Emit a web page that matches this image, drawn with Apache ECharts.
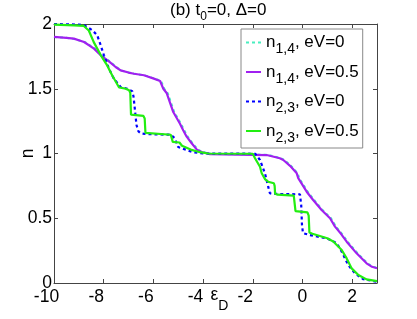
<!DOCTYPE html>
<html>
<head>
<meta charset="utf-8">
<script src="https://cdn.jsdelivr.net/npm/echarts@6/dist/echarts.min.js"></script>
<style>html,body{margin:0;padding:0;background:#fff}#c{width:417px;height:319px}</style>
</head>
<body>
<div id="c"></div>
<script>
// ---- data ----
var xTicks = [-10, -8, -6, -4, -2, 0, 2];
var yTicks = [0, 0.5, 1, 1.5, 2];
var seriesNames = ['n14_eV0', 'n14_eV05', 'n23_eV0', 'n23_eV05'];

var n14_eV0 = [[-10,1.9],[-9.5,1.893],[-9.2,1.885],[-8.75,1.86],[-8.35,1.81],[-8.08,1.758],[-7.75,1.71],[-7.48,1.666],[-7.28,1.64],[-6.96,1.624],[-6.74,1.615],[-6.34,1.603],[-5.94,1.577],[-5.69,1.56],[-5.56,1.5],[-5.42,1.465],[-5.16,1.32],[-4.89,1.23],[-4.76,1.18],[-4.62,1.13],[-4.42,1.079],[-4.21,1.03],[-4.02,1.012],[-3.68,0.997],[-2,0.992],[-1.4,0.99],[-0.87,0.963],[-0.73,0.95],[-0.46,0.905],[-0.19,0.847],[-0.13,0.81],[0.21,0.705],[0.47,0.641],[0.81,0.564],[1.15,0.5],[1.35,0.435],[1.59,0.38],[1.82,0.319],[2.22,0.229],[2.62,0.152],[2.84,0.125],[3,0.118]];

var n14_eV05 = [[-10,1.9],[-9.5,1.893],[-9.2,1.887],[-8.79,1.861],[-8.39,1.81],[-8.12,1.758],[-7.79,1.712],[-7.52,1.668],[-7.32,1.642],[-7,1.625],[-6.78,1.616],[-6.38,1.604],[-5.98,1.578],[-5.73,1.56],[-5.6,1.5],[-5.46,1.465],[-5.2,1.32],[-4.93,1.23],[-4.8,1.18],[-4.66,1.13],[-4.46,1.079],[-4.25,1.03],[-4.06,1.012],[-3.72,0.995],[-2,0.99],[-1.44,0.988],[-0.91,0.963],[-0.77,0.95],[-0.5,0.905],[-0.23,0.847],[-0.17,0.81],[0.17,0.705],[0.43,0.641],[0.77,0.564],[1.11,0.5],[1.31,0.435],[1.55,0.38],[1.78,0.319],[2.18,0.229],[2.58,0.152],[2.8,0.125],[3,0.114]];

var n23_eV0 = [[-10,2],[-9,1.995],[-8.8,1.99],[-8.66,1.977],[-8.45,1.95],[-8.26,1.913],[-8.12,1.835],[-7.99,1.758],[-7.79,1.655],[-7.59,1.578],[-7.32,1.514],[-7.05,1.5],[-6.85,1.48],[-6.8,1.44],[-6.75,1.35],[-6.68,1.22],[-6.6,1.17],[-6.5,1.155],[-6.3,1.15],[-5.3,1.145],[-5.15,1.12],[-5.0,1.05],[-4.7,1.03],[-4.4,1.01],[-4.0,1.0],[-1.9,0.998],[-1.84,0.988],[-1.71,0.95],[-1.51,0.847],[-1.38,0.744],[-1.31,0.693],[-1.2,0.688],[-0.1,0.685],[-0.05,0.6],[-0.02,0.45],[0.02,0.385],[0.3,0.37],[0.7,0.355],[0.97,0.345],[1.2,0.325],[1.38,0.307],[1.58,0.242],[1.84,0.139],[2.11,0.075],[2.45,0.029],[3,0.01]];

var n23_eV05 = [[-10,1.995],[-9.2,1.99],[-8.8,1.985],[-8.6,1.95],[-8.4,1.86],[-8.12,1.76],[-7.86,1.68],[-7.65,1.6],[-7.38,1.51],[-7.11,1.5],[-6.98,1.488],[-6.93,1.47],[-6.9,1.3],[-6.85,1.29],[-6.4,1.29],[-6.35,1.27],[-6.32,1.16],[-6.25,1.15],[-5.3,1.145],[-5.25,1.13],[-5.22,1.09],[-4.95,1.085],[-4.85,1.06],[-4.5,1.03],[-4.12,1.01],[-3.8,1.0],[-2.0,0.998],[-1.91,0.963],[-1.71,0.898],[-1.64,0.847],[-1.5,0.8],[-1.38,0.782],[-1.15,0.77],[-1.12,0.75],[-1.1,0.69],[-1.0,0.682],[-0.35,0.674],[-0.3,0.66],[-0.28,0.555],[-0.2,0.548],[0.2,0.545],[0.25,0.52],[0.28,0.39],[0.4,0.38],[0.7,0.363],[1.0,0.345],[1.24,0.32],[1.45,0.28],[1.58,0.255],[1.78,0.19],[1.98,0.113],[2.25,0.062],[2.58,0.028],[3,0.015]];

var legendLabels = {
  n14_eV0: '{n|n}{s|1,4}{n|, eV=0}',
  n14_eV05: '{n|n}{s|1,4}{n|, eV=0.5}',
  n23_eV0: '{n|n}{s|2,3}{n|, eV=0}',
  n23_eV05: '{n|n}{s|2,3}{n|, eV=0.5}'
};

// ---- chart ----
var FONT = 'Liberation Sans, Arial, sans-serif';
var chart = echarts.init(document.getElementById('c'), null, {renderer: 'canvas'});

function mkSeries(name, data, color, type, width) {
  return {
    name: name, type: 'line', data: data, symbol: 'none', smooth: false,
    lineStyle: {color: color, width: width, type: type},
    itemStyle: {color: color},
    emphasis: {disabled: true}, animation: false, z: 2
  };
}

var axisLineStyle = {color: '#444', width: 1};

chart.setOption({
  animation: false,
  title: {
    text: '{a|(b) t}{s|0}{a|=0, Δ=0}',
    left: 170, top: -3, padding: 0,
    textStyle: {
      fontWeight: 'normal',
      rich: {
        a: {fontSize: 17, lineHeight: 26, fontFamily: FONT, fontWeight: 'normal', color: '#000'},
        s: {fontSize: 12, lineHeight: 12, verticalAlign: 'bottom', fontFamily: FONT, fontWeight: 'normal', color: '#000'}
      }
    }
  },
  grid: {left: 54, top: 24, right: 40, bottom: 36, containLabel: false},
  legend: {
    orient: 'vertical', left: 241, top: 29,
    padding: [5, 4, 3, 4],
    itemGap: 7, itemWidth: 15, itemHeight: 10,
    backgroundColor: '#fff', borderColor: '#888', borderWidth: 1,
    selectedMode: false,
    itemStyle: {opacity: 0, borderWidth: 0},
    data: seriesNames,
    formatter: function (name) { return legendLabels[name]; },
    textStyle: {
      rich: {
        n: {fontSize: 17, lineHeight: 28, fontFamily: FONT, color: '#000'},
        s: {fontSize: 14, lineHeight: 14, verticalAlign: 'bottom', fontFamily: FONT, color: '#000'}
      }
    }
  },
  xAxis: [{
    type: 'value', min: -10, max: 3, interval: 2,
    axisLine: {show: true, onZero: false, lineStyle: axisLineStyle},
    axisTick: {show: true, inside: true, length: 4, lineStyle: axisLineStyle},
    splitLine: {show: false},
    axisLabel: {
      margin: 5, showMaxLabel: false,
      formatter: function (v) { return v < 0 ? '{neg|' + v + '}' : '{pos|' + v + '}'; },
      rich: {
        neg: {fontSize: 17.5, fontFamily: FONT, color: '#000', padding: [0, 15, 0, 0]},
        pos: {fontSize: 17.5, fontFamily: FONT, color: '#000'}
      }
    },
    name: '{e|ε}{d|D}', nameLocation: 'middle', nameGap: -6, nameMoveOverlap: false,
    nameTextStyle: {
      padding: [0, 0, 0, 8],
      rich: {
        e: {fontSize: 17.5, lineHeight: 36, fontFamily: FONT, color: '#000'},
        d: {fontSize: 14, lineHeight: 14, verticalAlign: 'bottom', fontFamily: FONT, color: '#000'}
      }
    }
  }, {
    type: 'value', min: -10, max: 3, interval: 2, position: 'top',
    axisLine: {show: true, onZero: false, lineStyle: axisLineStyle},
    axisTick: {show: true, inside: true, length: 4, lineStyle: axisLineStyle},
    axisLabel: {show: false}, splitLine: {show: false}
  }],
  yAxis: [{
    type: 'value', min: 0, max: 2, interval: 0.5,
    axisLine: {show: true, onZero: false, lineStyle: axisLineStyle},
    axisTick: {show: true, inside: true, length: 4, lineStyle: axisLineStyle},
    splitLine: {show: false},
    axisLabel: {margin: 2, fontSize: 17.5, fontFamily: FONT, color: '#000'},
    name: 'n', nameLocation: 'middle', nameGap: 17, nameMoveOverlap: false,
    nameTextStyle: {fontSize: 17.5, fontFamily: FONT, color: '#000'}
  }, {
    type: 'value', min: 0, max: 2, interval: 0.5, position: 'right',
    axisLine: {show: true, onZero: false, lineStyle: axisLineStyle},
    axisTick: {show: true, inside: true, length: 4, lineStyle: axisLineStyle},
    axisLabel: {show: false}, splitLine: {show: false}
  }],
  series: [
    mkSeries('n14_eV0', n14_eV0, '#48EEC0', [3, 3], 2),
    mkSeries('n14_eV05', n14_eV05, '#A020F0', 'solid', 2.2),
    mkSeries('n23_eV0', n23_eV0, '#0000FF', [3, 3], 2.2),
    mkSeries('n23_eV05', n23_eV05, '#22EE11', 'solid', 2.2)
  ]
});
</script>
</body>
</html>
